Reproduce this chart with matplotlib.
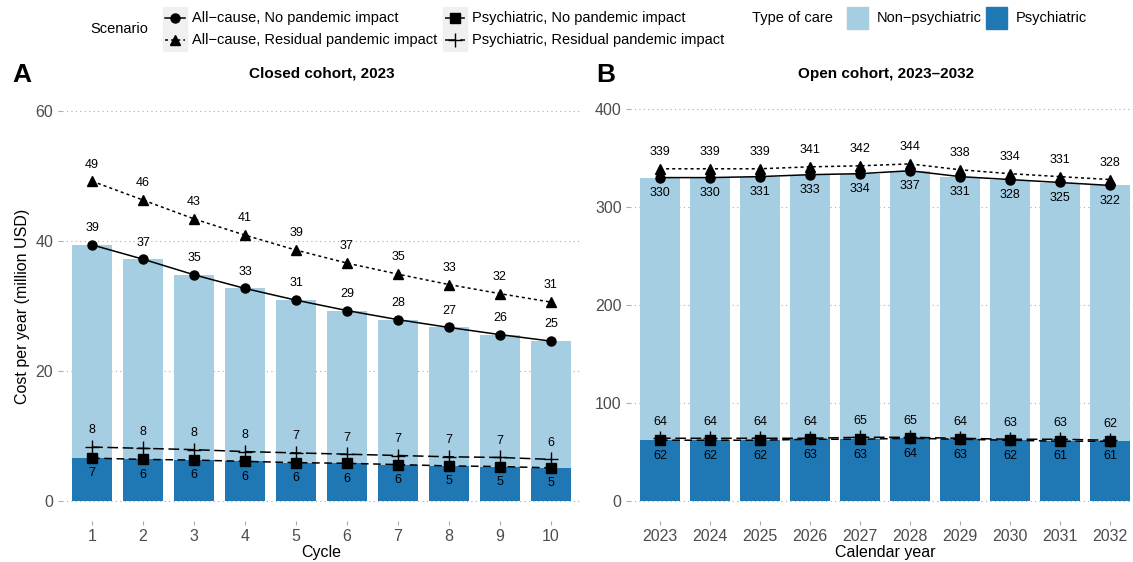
import matplotlib.pyplot as plt
import numpy as np
from matplotlib.lines import Line2D
from matplotlib.patches import Rectangle

plt.rcParams['font.family'] = ['Liberation Sans', 'DejaVu Sans']

# panel A: closed cohort, 2023
cycles = [1, 2, 3, 4, 5, 6, 7, 8, 9, 10]
a_all_no = [39.4, 37.2, 34.8, 32.7, 30.9, 29.3, 27.9, 26.7, 25.6, 24.6]
a_all_res = [49.2, 46.3, 43.4, 40.9, 38.6, 36.6, 34.9, 33.3, 31.9, 30.6]
a_psy_no = [6.6, 6.4, 6.3, 6.1, 5.9, 5.8, 5.6, 5.4, 5.3, 5.1]
a_psy_res = [8.3, 8.1, 7.9, 7.6, 7.4, 7.2, 7.0, 6.8, 6.7, 6.4]

# panel B: open cohort, 2023-2032
years = [2023, 2024, 2025, 2026, 2027, 2028, 2029, 2030, 2031, 2032]
b_all_no = [330, 330, 331, 333, 334, 337, 331, 328, 325, 322]
b_all_res = [339, 339, 339, 341, 342, 344, 338, 334, 331, 328]
b_psy_no = [62, 62, 62, 63, 63, 64, 63, 62, 61, 61]
b_psy_res = [64, 64, 64, 64, 65, 65, 64, 63, 63, 62]

light = '#a6cee3'
dark = '#1f78b4'
styles = {
    'all_no': dict(marker='o', ls='-', ms=6.5),
    'all_res': dict(marker='^', ls=(0, (2, 2)), ms=7.5),
    'psy_no': dict(marker='s', ls=(0, (5, 3)), ms=6.5),
    'psy_res': dict(marker='+', ls=(0, (7, 3)), ms=10, mew=1),
}

W, H = 1133, 562
fig = plt.figure(figsize=(W / 100, H / 100), dpi=100)


def px_axes(x0, x1, y0, y1):
    return fig.add_axes([x0 / W, 1 - y1 / H, (x1 - x0) / W, (y1 - y0) / H])


def draw_panel(ax, x, all_no, all_res, psy_no, psy_res, below_all, ylim, yticks):
    x = np.array(x)
    all_no = np.array(all_no)
    psy_no = np.array(psy_no)
    ax.bar(x, psy_no, width=0.8, color=dark, zorder=2)
    ax.bar(x, all_no - psy_no, bottom=psy_no, width=0.8, color=light, zorder=2)
    for key, vals in [('all_no', all_no), ('all_res', all_res),
                      ('psy_no', psy_no), ('psy_res', psy_res)]:
        st = styles[key]
        ax.plot(x, vals, color='black', lw=1.1, ls=st['ls'], marker=st['marker'],
                ms=st['ms'], mew=st.get('mew', 1), zorder=3)
    for key, vals, down in [('all_no', all_no, below_all), ('all_res', all_res, False),
                            ('psy_no', psy_no, True), ('psy_res', psy_res, False)]:
        for xi, v in zip(x, vals):
            off = -11 if down else 12
            ax.annotate(f'{round(v)}', (xi, v), xytext=(0, off), textcoords='offset points',
                        ha='center', va='center', fontsize=9, zorder=4)
    ax.set_ylim(*ylim)
    ax.set_xticks(x)
    ax.set_yticks(yticks)
    ax.yaxis.grid(True, ls=(0, (1, 3)), color='#aaaaaa', lw=0.8, zorder=0)
    ax.set_axisbelow(True)
    for s in ax.spines.values():
        s.set_visible(False)
    ax.tick_params(colors='#4d4d4d', labelsize=11.5, length=3, width=0.8, pad=3)
    ax.tick_params(axis='both', color='#aaaaaa')


axA = px_axes(61.5, 581.5, 91.5, 520.5)
draw_panel(axA, cycles, a_all_no, a_all_res, a_psy_no, a_psy_res, False,
           (-3, 63), [0, 20, 40, 60])
axA.set_xlim(0.4, 10.6)
axA.set_xlabel('Cycle', fontsize=11.5, labelpad=1)
axA.set_ylabel('Cost per year (million USD)', fontsize=11.5, labelpad=4)

axB = px_axes(630, 1140, 89.4, 520.6)
draw_panel(axB, years, b_all_no, b_all_res, b_psy_no, b_psy_res, True,
           (-20, 420), [0, 100, 200, 300, 400])
axB.set_xlim(2022.4, 2032.6)
axB.set_xlabel('Calendar year', fontsize=11.5, labelpad=1)

fig.text(322 / W, 1 - 74 / H, 'Closed cohort, 2023', fontsize=11, fontweight='bold',
         ha='center', va='center')
fig.text(886 / W, 1 - 74 / H, 'Open cohort, 2023\u20132032', fontsize=11, fontweight='bold',
         ha='center', va='center')
fig.text(22 / W, 1 - 75 / H, 'A', fontsize=19, fontweight='bold', ha='center', va='center')
fig.text(606 / W, 1 - 75 / H, 'B', fontsize=19, fontweight='bold', ha='center', va='center')

# legends
fig.text(119 / W, 1 - 29 / H, 'Scenario', fontsize=10.5, ha='center', va='center')
entries = [
    ('all_no', 'All\u2212cause, No pandemic impact', 175, 18),
    ('all_res', 'All\u2212cause, Residual pandemic impact', 175, 40),
    ('psy_no', 'Psychiatric, No pandemic impact', 455, 18),
    ('psy_res', 'Psychiatric, Residual pandemic impact', 455, 40),
]
for key, label, xc, yc in entries:
    st = styles[key]
    fig.patches.append(Rectangle(((xc - 12) / W, 1 - (yc + 11) / H), 24 / W, 22 / H,
                                 transform=fig.transFigure, color='#f0f0f0', zorder=0))
    fig.lines.append(Line2D([(xc - 10) / W, (xc + 10) / W], [1 - yc / H, 1 - yc / H],
                            transform=fig.transFigure, color='black', lw=1.1, ls=st['ls']))
    fig.lines.append(Line2D([xc / W], [1 - yc / H], transform=fig.transFigure, color='black',
                            marker=st['marker'], ms=st['ms'], mew=st.get('mew', 1), ls='none'))
    fig.text((xc + 17) / W, 1 - yc / H, label, fontsize=10.5, ha='left', va='center')

fig.text(752 / W, 1 - 18 / H, 'Type of care', fontsize=10.5, ha='left', va='center')
for xc, col, label in [(857, light, 'Non\u2212psychiatric'), (996, dark, 'Psychiatric')]:
    fig.patches.append(Rectangle(((xc - 10.5) / W, 1 - 28.5 / H), 21 / W, 21 / H,
                                 transform=fig.transFigure, color=col))
    fig.text((xc + 20) / W, 1 - 18 / H, label, fontsize=10.5, ha='left', va='center')

fig.savefig('out.png', dpi=100)
